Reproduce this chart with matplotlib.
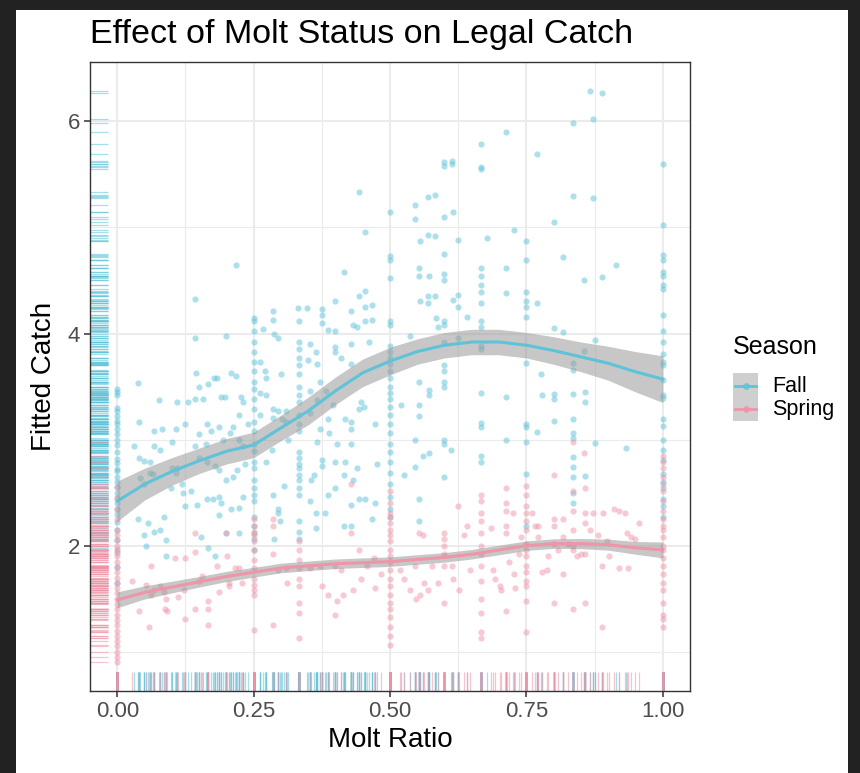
"""
Effect of Molt Status on Legal Catch — scatter + loess-style fits per season,
with rugs on both axes (ggplot theme_bw look).
"""

import matplotlib
matplotlib.use("Agg")
import matplotlib.pyplot as plt
import matplotlib.transforms as mtransforms
from matplotlib.patches import Rectangle
from matplotlib.lines import Line2D
import numpy as np

plt.rcParams["font.family"] = ["Liberation Sans", "DejaVu Sans"]

# ── Colours ───────────────────────────────────────────────────────────────────
FALL_COL   = "#5EC3D8"
SPRING_COL = "#EE95A8"
GRID_COL   = "#EBEBEB"

# ── Data: Fall ────────────────────────────────────────────────────────────────
# points stacked at common molt ratios
fall_stack_x = [0.0, 0.25, 0.333, 0.5, 0.667, 0.75, 1.0]
fall_stack_y = [
    [3.48, 3.45, 3.42, 3.3, 3.27, 3.22, 3.18, 3.15, 3.1, 3.05, 3.0, 2.95, 2.88,
     2.82, 2.78, 2.72, 2.7, 2.65, 2.6, 2.55, 2.5, 2.45, 2.4, 2.35, 2.3, 2.22,
     2.15, 2.05, 1.95, 1.8, 1.65],
    [4.15, 4.12, 4.02, 3.92, 3.83, 3.73, 3.65, 3.54, 3.48, 3.38, 3.29, 3.17,
     3.08, 2.96, 2.89, 2.79, 2.73, 2.62, 2.54, 2.48, 2.42, 2.27, 2.19, 2.12,
     2.06, 1.96],
    [4.12, 3.92, 3.85, 3.77, 3.7, 3.62, 3.5, 3.42, 3.35, 3.23, 3.15, 3.08, 2.88,
     2.83, 2.77, 2.73, 2.67, 2.62, 2.54, 2.48, 2.23, 2.13, 2.06],
    [5.15, 4.73, 4.69, 4.52, 4.12, 4.08, 3.88, 3.83, 3.77, 3.71, 3.65, 3.58,
     3.5, 3.44, 3.38, 3.31, 3.23, 3.15, 3.06, 2.96, 2.88, 2.79, 2.69, 2.58,
     2.46, 2.35, 2.27],
    [5.79, 5.57, 5.55, 4.62, 4.54, 4.46, 4.39, 4.29, 4.12, 4.06, 3.88, 3.85,
     3.44, 3.16, 3.12, 2.85, 2.79],
    [4.87, 4.69, 4.39, 4.31, 4.25, 4.16, 3.72, 3.15, 3.12, 2.98, 2.68, 2.19],
    [5.6, 5.02, 4.74, 4.69, 4.58, 4.54, 4.46, 4.42, 4.17, 4.02, 3.92, 3.81,
     3.73, 3.7, 3.56, 3.42, 3.39, 3.19, 3.13, 3.0, 2.9, 2.81, 2.68, 2.6, 2.54,
     2.44, 2.37, 2.27],
]
# scattered points
fall_free_x = [
    0.038, 0.04, 0.031, 0.04, 0.049, 0.042, 0.06, 0.067, 0.076, 0.082, 0.067,
    0.078, 0.06, 0.066, 0.049, 0.038, 0.056, 0.049, 0.067, 0.078, 0.053, 0.089,
    0.085, 0.1, 0.11, 0.107, 0.098, 0.11, 0.121, 0.125, 0.129, 0.142, 0.143,
    0.145, 0.15, 0.142, 0.157, 0.166, 0.178, 0.183, 0.2, 0.208, 0.218, 0.19,
    0.197, 0.226, 0.224, 0.23, 0.165, 0.15, 0.143, 0.163, 0.172, 0.186, 0.194,
    0.207, 0.212, 0.223, 0.23, 0.24, 0.15, 0.165, 0.179, 0.186, 0.2, 0.212,
    0.219, 0.234, 0.136, 0.125, 0.147, 0.165, 0.176, 0.186, 0.19, 0.208, 0.223,
    0.23, 0.186, 0.154, 0.166, 0.18, 0.2, 0.223, 0.118, 0.107, 0.1, 0.09, 0.218,
    0.268, 0.286, 0.286, 0.288, 0.295, 0.262, 0.27, 0.273, 0.3, 0.262, 0.273,
    0.286, 0.295, 0.31, 0.262, 0.286, 0.302, 0.31, 0.313, 0.284, 0.273, 0.306,
    0.286, 0.294, 0.295, 0.298, 0.288, 0.331, 0.347, 0.353, 0.364, 0.349,
    0.366, 0.375, 0.375, 0.375, 0.386, 0.4, 0.4, 0.4, 0.4, 0.411, 0.429, 0.432,
    0.44, 0.443, 0.454, 0.454, 0.467, 0.467, 0.454, 0.461, 0.429, 0.429, 0.443,
    0.454, 0.416, 0.371, 0.353, 0.353, 0.367, 0.382, 0.386, 0.396, 0.389,
    0.367, 0.371, 0.402, 0.429, 0.429, 0.429, 0.418, 0.447, 0.452, 0.443,
    0.472, 0.476, 0.44, 0.418, 0.4, 0.375, 0.375, 0.36, 0.356, 0.386, 0.416,
    0.433, 0.4, 0.353, 0.364, 0.38, 0.429, 0.443, 0.454, 0.472, 0.467, 0.429,
    0.416, 0.364,
    0.545, 0.545, 0.57, 0.583, 0.555, 0.57, 0.583, 0.599, 0.599, 0.613, 0.599,
    0.613, 0.615, 0.624, 0.713, 0.678, 0.727, 0.713, 0.713, 0.713, 0.713,
    0.554, 0.554, 0.571, 0.555, 0.57, 0.583, 0.57, 0.599, 0.599, 0.599, 0.615,
    0.624, 0.624, 0.642, 0.585, 0.599, 0.599, 0.588, 0.599, 0.625, 0.537,
    0.599, 0.599, 0.599, 0.599, 0.554, 0.571, 0.571, 0.554, 0.521, 0.554,
    0.545, 0.561, 0.571, 0.599, 0.599, 0.611, 0.545, 0.525, 0.599, 0.554,
    0.554,
    0.769, 0.8, 0.817, 0.769, 0.835, 0.866, 0.888, 0.873, 0.835, 0.873, 0.889,
    0.855, 0.915, 0.8, 0.817, 0.776, 0.835, 0.835, 0.855, 0.876, 0.778, 0.8,
    0.8, 0.835, 0.858, 0.858, 0.8, 0.835, 0.769, 0.835, 0.835, 0.876, 0.933,
    0.835, 0.835, 0.835, 0.858, 0.835, 0.835,
]
fall_free_y = [
    3.53, 3.17, 2.94, 2.83, 2.8, 2.64, 2.69, 3.08, 3.37, 3.1, 2.94, 2.9, 2.79,
    2.68, 2.58, 2.25, 2.21, 2.1, 2.13, 2.15, 2.0, 2.05, 2.27, 2.98, 3.35, 3.1,
    2.54, 2.73, 2.5, 3.15, 3.35, 4.33, 3.96, 3.63, 3.5, 3.38, 3.38, 3.52, 3.58,
    3.58, 3.98, 3.63, 3.6, 3.4, 3.4, 3.4, 3.23, 3.35, 3.15, 3.05, 2.94, 2.96,
    3.08, 3.12, 3.0, 3.06, 3.12, 3.0, 2.94, 3.15, 2.83, 2.79, 2.75, 2.71, 2.62,
    2.65, 2.71, 2.77, 2.52, 2.37, 2.38, 2.44, 2.44, 2.46, 2.4, 2.35, 2.36,
    2.46, 2.29, 2.08, 1.98, 1.9, 2.12, 2.12, 2.58, 2.69, 2.73, 1.9, 4.65,
    4.04, 4.21, 4.13, 4.0, 3.96, 3.73, 3.65, 3.58, 3.62, 3.44, 3.42, 3.29,
    3.27, 3.27, 3.23, 3.2, 3.19, 3.17, 3.0, 2.9, 2.79, 2.56, 2.48, 2.35, 2.31,
    2.23, 2.06, 4.24, 4.24, 3.9, 3.83, 3.75, 3.71, 4.23, 4.17, 4.1, 4.03, 4.31,
    4.02, 3.87, 3.83, 3.77, 4.21, 4.08, 4.06, 4.35, 4.4, 4.25, 4.27, 4.13,
    4.12, 3.92, 3.9, 3.71, 5.33, 4.96, 4.58, 3.54, 3.46, 3.25, 3.37, 3.46,
    3.19, 3.33, 3.06, 2.98, 3.1, 2.96, 3.17, 3.1, 2.96, 3.19, 3.35, 3.31, 3.29,
    3.15, 2.77, 2.73, 2.79, 2.79, 2.81, 2.75, 2.67, 2.62, 2.48, 2.67, 2.62,
    2.54, 2.42, 2.31, 2.31, 2.38, 2.44, 2.44, 2.4, 2.25, 2.19, 2.19, 2.17,
    5.21, 5.08, 5.29, 5.31, 4.87, 4.93, 4.92, 5.1, 5.62, 5.63, 5.58, 5.6, 5.15,
    4.88, 5.9, 4.9, 4.98, 4.62, 4.38, 3.4, 3.0, 4.62, 4.54, 4.54, 4.31, 4.35,
    4.35, 4.29, 4.56, 4.5, 4.75, 4.32, 4.36, 4.25, 4.16, 4.15, 4.12, 4.08,
    4.06, 3.92, 3.96, 3.98, 3.7, 3.65, 3.54, 3.5, 3.54, 3.47, 3.42, 3.33, 3.33,
    3.22, 3.0, 2.85, 2.87, 3.0, 2.96, 2.9, 2.74, 2.67, 2.65, 2.44, 2.23,
    5.69, 5.05, 4.72, 4.29, 5.98, 6.29, 6.27, 6.02, 5.3, 5.28, 4.53, 4.5, 4.65,
    4.05, 4.01, 3.62, 3.72, 3.66, 3.84, 3.94, 3.42, 3.43, 3.38, 3.43, 3.45,
    3.35, 3.18, 3.19, 3.07, 3.06, 3.02, 2.97, 2.92, 2.84, 2.74, 2.65, 2.66,
    2.5, 2.4,
]

# ── Data: Spring ──────────────────────────────────────────────────────────────
spring_stack_x = [0.0, 0.25, 0.333, 0.5, 0.667, 0.75, 1.0]
spring_stack_y = [
    [2.55, 2.45, 2.35, 2.25, 2.15, 2.1, 2.05, 2.0, 1.97, 1.93, 1.9, 1.85, 1.8,
     1.75, 1.7, 1.65, 1.6, 1.55, 1.5, 1.45, 1.4, 1.35, 1.3, 1.25, 1.2, 1.15,
     1.1, 1.05, 1.0, 0.95, 0.9],
    [2.25, 2.19, 2.13, 2.1, 2.04, 1.96, 1.87, 1.79, 1.69, 1.63, 1.58, 1.54,
     1.21],
    [2.04, 1.96, 1.87, 1.79, 1.69, 1.62, 1.46, 1.37, 1.13],
    [2.52, 2.4, 2.31, 2.27, 2.21, 2.15, 2.1, 2.04, 1.96, 1.9, 1.85, 1.77, 1.69,
     1.62, 1.54, 1.46, 1.4, 1.33, 1.23, 1.15, 1.06],
    [2.48, 2.42, 2.31, 2.23, 2.12, 2.0, 1.92, 1.81, 1.67, 1.5, 1.37, 1.19,
     1.13],
    [2.56, 2.48, 2.37, 2.31, 2.23, 2.15, 2.02, 1.96, 1.9, 1.81, 1.75, 1.67,
     1.62, 1.48, 1.19],
    [2.85, 2.79, 2.73, 2.65, 2.58, 2.52, 2.42, 2.33, 2.25, 2.19, 2.15, 2.08,
     2.0, 1.96, 1.88, 1.81, 1.73, 1.65, 1.58, 1.46, 1.35, 1.31, 1.23],
]
spring_free_x = [
    0.027, 0.04, 0.053, 0.058, 0.062, 0.067, 0.078, 0.085, 0.087, 0.091, 0.089,
    0.062, 0.106, 0.111, 0.123, 0.125, 0.125, 0.143, 0.142, 0.143, 0.15, 0.156,
    0.166, 0.166, 0.166, 0.183, 0.186, 0.2, 0.201, 0.205, 0.216, 0.223, 0.228,
    0.205, 0.286, 0.286, 0.286, 0.286, 0.295, 0.31, 0.311, 0.353, 0.371, 0.375,
    0.386, 0.4, 0.402, 0.4, 0.411, 0.414, 0.429, 0.429, 0.433, 0.444, 0.447,
    0.457, 0.47, 0.472, 0.483, 0.519, 0.526, 0.537, 0.545, 0.554, 0.548, 0.555,
    0.561, 0.563, 0.57, 0.577, 0.588, 0.599, 0.599, 0.599, 0.599, 0.599, 0.599,
    0.613, 0.615, 0.625, 0.627, 0.635, 0.642, 0.646, 0.685, 0.689, 0.693,
    0.701, 0.704, 0.713, 0.713, 0.713, 0.713, 0.713, 0.713, 0.718, 0.726,
    0.727, 0.729, 0.736, 0.74, 0.761, 0.765, 0.772, 0.772, 0.778, 0.787, 0.79,
    0.8, 0.8, 0.8, 0.8, 0.8, 0.808, 0.817, 0.817, 0.817, 0.827, 0.835, 0.835,
    0.835, 0.835, 0.835, 0.835, 0.835, 0.842, 0.851, 0.855, 0.858, 0.858,
    0.858, 0.858, 0.858, 0.866, 0.873, 0.881, 0.889, 0.889, 0.891, 0.898,
    0.902, 0.91, 0.919, 0.92, 0.931, 0.935, 0.937, 0.942, 0.949, 0.956,
]
spring_free_y = [
    1.67, 1.38, 1.63, 1.23, 1.54, 1.58, 1.62, 1.56, 1.4, 1.38, 1.5, 1.81, 1.88,
    1.52, 1.58, 1.31, 1.88, 1.94, 2.12, 1.4, 1.67, 1.71, 1.48, 1.4, 1.25, 1.81,
    1.56, 2.12, 1.9, 1.65, 1.79, 1.79, 1.65, 1.62, 2.25, 2.19, 1.92, 1.25,
    1.77, 1.79, 1.65, 1.79, 1.81, 1.62, 1.54, 1.81, 1.48, 1.35, 1.77, 1.54,
    2.12, 2.58, 1.58, 1.96, 1.69, 1.81, 1.88, 1.6, 1.73, 1.77, 1.69, 1.58,
    1.81, 2.12, 1.5, 1.54, 2.1, 1.65, 1.58, 1.81, 1.65, 2.12, 2.06, 2.0, 1.92,
    1.81, 1.46, 1.81, 1.69, 2.37, 1.58, 2.1, 2.19, 1.77, 2.17, 1.77, 1.69,
    1.62, 1.58, 2.54, 2.4, 2.33, 2.19, 2.12, 1.38, 1.85, 2.31, 1.73, 1.6, 1.92,
    2.08, 2.31, 2.19, 2.19, 2.08, 1.75, 1.77, 1.9, 2.67, 2.25, 2.19, 2.02,
    1.46, 1.96, 2.25, 2.08, 1.73, 2.02, 2.98, 2.52, 2.33, 2.15, 2.0, 1.96, 1.4,
    1.9, 1.92, 2.87, 2.54, 2.31, 2.21, 1.92, 1.46, 2.15, 2.31, 2.1, 1.81, 1.23,
    2.31, 2.04, 1.9, 2.35, 2.33, 1.79, 2.31, 2.12, 1.79, 2.08, 2.06, 2.21,
]

# ── Smoothed fits ─────────────────────────────────────────────────────────────
smooth_x   = [0.0, 0.05, 0.1, 0.15, 0.2, 0.25, 0.3, 0.35, 0.4, 0.45, 0.5,
              0.55, 0.6, 0.65, 0.7, 0.75, 0.8, 0.85, 0.9, 0.95, 1.0]
fall_fit   = [2.42, 2.58, 2.7, 2.8, 2.89, 2.95, 3.11, 3.27, 3.46, 3.63, 3.74,
              3.83, 3.89, 3.92, 3.92, 3.89, 3.84, 3.78, 3.72, 3.64, 3.57]
fall_se    = [0.19, 0.15, 0.13, 0.12, 0.12, 0.12, 0.12, 0.13, 0.13, 0.13, 0.13,
              0.12, 0.12, 0.12, 0.12, 0.12, 0.13, 0.14, 0.16, 0.19, 0.22]
spring_fit = [1.49, 1.56, 1.61, 1.66, 1.71, 1.75, 1.79, 1.81, 1.83, 1.84, 1.85,
              1.87, 1.89, 1.92, 1.96, 2.0, 2.02, 2.02, 2.01, 1.98, 1.96]
spring_se  = [0.075, 0.062, 0.055, 0.05, 0.048, 0.046, 0.045, 0.045, 0.045,
              0.045, 0.045, 0.045, 0.045, 0.045, 0.045, 0.045, 0.045, 0.048,
              0.052, 0.06, 0.075]

x_ticks = [0.0, 0.25, 0.5, 0.75, 1.0]
x_tick_labels = ["0.00", "0.25", "0.50", "0.75", "1.00"]
y_ticks = [2, 4, 6]


def _collect(stack_x, stack_y, free_x, free_y):
    xs, ys = [], []
    for x0, col in zip(stack_x, stack_y):
        xs += [x0] * len(col)
        ys += col
    return np.array(xs + free_x), np.array(ys + free_y)


fall_x, fall_y = _collect(fall_stack_x, fall_stack_y, fall_free_x, fall_free_y)
spring_x, spring_y = _collect(spring_stack_x, spring_stack_y,
                              spring_free_x, spring_free_y)

# ── Figure ────────────────────────────────────────────────────────────────────
W, H = 860, 773
fig = plt.figure(figsize=(W / 100, H / 100), dpi=100, facecolor="#222222")
bg = Rectangle((16 / W, 0), (848 - 16) / W, (H - 10) / H,
               transform=fig.transFigure, facecolor="white",
               edgecolor="none", zorder=-10)
fig.add_artist(bg)

ax = fig.add_axes([90 / W, (H - 691) / H, 600 / W, 629 / H])
ax.set_facecolor("white")

all_y = np.concatenate([fall_y, spring_y])
pad = 0.05 * (all_y.max() - all_y.min())
ax.set_xlim(-0.05, 1.05)
ax.set_ylim(all_y.min() - pad, all_y.max() + pad)

# grid
ax.set_xticks(x_ticks)
ax.set_xticks([0.125, 0.375, 0.625, 0.875], minor=True)
ax.set_yticks(y_ticks)
ax.set_yticks([1, 3, 5], minor=True)
ax.grid(True, which="major", color=GRID_COL, linewidth=1.5)
ax.grid(True, which="minor", color=GRID_COL, linewidth=0.8)
ax.set_axisbelow(True)

# points
ax.scatter(fall_x, fall_y, s=20, color=FALL_COL, alpha=0.5, linewidths=0, zorder=2)
ax.scatter(spring_x, spring_y, s=20, color=SPRING_COL, alpha=0.5, linewidths=0, zorder=2)

# rugs
bx = mtransforms.blended_transform_factory(ax.transData, ax.transAxes)
by = mtransforms.blended_transform_factory(ax.transAxes, ax.transData)
for xs, ys, col in [(fall_x, fall_y, FALL_COL), (spring_x, spring_y, SPRING_COL)]:
    ax.vlines(xs, 0, 0.03, transform=bx, color=col, alpha=0.55, linewidth=0.9, zorder=2)
    ax.hlines(ys, 0, 0.03, transform=by, color=col, alpha=0.55, linewidth=0.9, zorder=2)

# smooth fits with CI ribbons
sx = np.array(smooth_x)
for fit, se, col in [(fall_fit, fall_se, FALL_COL), (spring_fit, spring_se, SPRING_COL)]:
    fit, se = np.array(fit), np.array(se)
    ax.fill_between(sx, fit - se, fit + se, color="#999999", alpha=0.55,
                    linewidth=0, zorder=3)
    ax.plot(sx, fit, color=col, linewidth=2.2, zorder=4)

# axes styling
for sp in ax.spines.values():
    sp.set_color("#333333")
    sp.set_linewidth(1.0)
ax.set_xticklabels(x_tick_labels)
ax.tick_params(which="major", length=4, width=1.1, color="#333333",
               labelcolor="#4D4D4D", labelsize=16, pad=3)
ax.tick_params(which="minor", length=0)

ax.set_xlabel("Molt Ratio", fontsize=20, labelpad=4)
ax.set_ylabel("Fitted Catch", fontsize=20, labelpad=8)
fig.text(90 / W, 1 - 43 / H, "Effect of Molt Status on Legal Catch",
         fontsize=24.5, ha="left", va="baseline")

# legend (drawn by hand to get ggplot-style grey key boxes)
fig.text(733 / W, 1 - 347 / H, "Season", fontsize=18, ha="left", va="center")
fig.add_artist(Rectangle((733 / W, 1 - 421 / H), 25 / W, 48 / H,
                         transform=fig.transFigure, facecolor="#CFCFCF",
                         edgecolor="none", zorder=1))
for yy, col, lab in [(386, FALL_COL, "Fall"), (409, SPRING_COL, "Spring")]:
    fig.add_artist(Line2D([735 / W, 756 / W], [1 - yy / H] * 2,
                          transform=fig.transFigure, color=col, linewidth=2,
                          zorder=2))
    fig.add_artist(Line2D([745.5 / W], [1 - yy / H], transform=fig.transFigure,
                          color=col, marker="o", markersize=4, alpha=0.7,
                          linestyle="none", zorder=2))
    fig.text(772 / W, 1 - yy / H, lab, fontsize=15.5, ha="left", va="center")

fig.savefig("out.png", dpi=100, facecolor=fig.get_facecolor())
